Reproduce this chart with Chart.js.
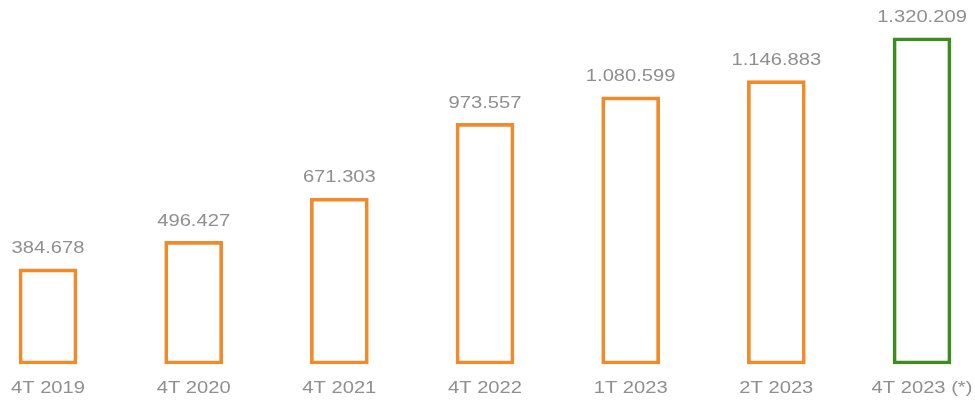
<!DOCTYPE html>
<html>
<head>
<meta charset="utf-8">
<script src="https://cdn.jsdelivr.net/npm/chart.js@4"></script>
<style>
  html, body { margin: 0; padding: 0; background: #fff; }
  #wrap { width: 975px; height: 403px; }
</style>
</head>
<body>
<div id="wrap"><canvas id="myChart"></canvas></div>
<script>
const categories = ['4T 2019', '4T 2020', '4T 2021', '4T 2022', '1T 2023', '2T 2023', '4T 2023 (*)'];
const values = [384678, 496427, 671303, 973557, 1080599, 1146883, 1320209];
const barColors = ['#f08a2a', '#f08a2a', '#f08a2a', '#f08a2a', '#f08a2a', '#f08a2a', '#3e8c1e'];

const textColor = '#8f8f8f';
const stretch = 1.26;

function formatValue(v) {
    return String(v).replace(/\B(?=(\d{3})+(?!\d))/g, '.');
}

function drawStretched(ctx, text, x, y) {
    ctx.save();
    ctx.translate(x, y);
    ctx.scale(stretch, 1);
    ctx.fillText(text, 0, 0);
    ctx.restore();
}

const labelsPlugin = {
    id: 'labelsPlugin',
    afterDatasetsDraw(chart) {
        const ctx = chart.ctx;
        const meta = chart.getDatasetMeta(0);
        const xScale = chart.scales.x;
        ctx.save();
        ctx.font = '16px "Liberation Sans", Arial, sans-serif';
        ctx.fillStyle = textColor;
        ctx.textAlign = 'center';
        ctx.textBaseline = 'middle';
        meta.data.forEach((bar, i) => {
            drawStretched(ctx, formatValue(values[i]), bar.x, bar.y - 20);
            drawStretched(ctx, categories[i], xScale.getPixelForValue(i), 389);
        });
        ctx.restore();
    }
};

document.addEventListener('DOMContentLoaded', function() {
    const ctx = document.getElementById('myChart').getContext('2d');
    new Chart(ctx, {
        type: 'bar',
        data: {
            labels: categories,
            datasets: [{
                data: values,
                backgroundColor: 'rgba(255,255,255,0)',
                borderColor: barColors,
                borderWidth: 3,
                borderSkipped: false,
                barThickness: 58,
                clip: false
            }]
        },
        options: {
            responsive: true,
            maintainAspectRatio: false,
            animation: false,
            layout: {
                padding: { left: 48, right: 53, top: 18, bottom: 39 }
            },
            plugins: {
                legend: { display: false },
                tooltip: { enabled: false }
            },
            scales: {
                x: { display: false, offset: false },
                y: { display: false, min: 0, max: 1400000 }
            }
        },
        plugins: [labelsPlugin]
    });
});
</script>
</body>
</html>
